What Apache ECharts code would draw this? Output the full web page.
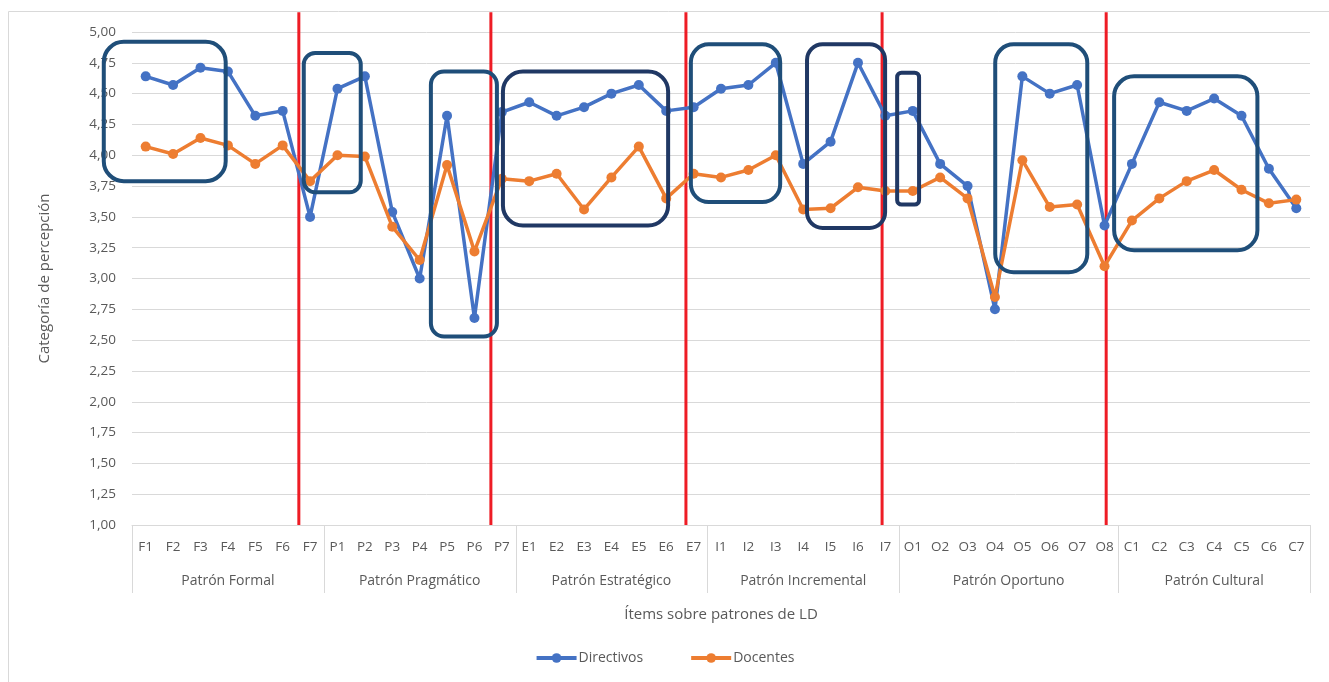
<!DOCTYPE html>
<html>
<head>
<meta charset="utf-8">
<script src="https://cdn.jsdelivr.net/npm/echarts@6/dist/echarts.min.js"></script>
<style>
  html, body { margin: 0; padding: 0; background: #fff; }
  #chart { width: 1329px; height: 682px; }
</style>
</head>
<body>
<div id="chart"></div>
<script>
// items per pattern
var groups = ['Patrón Formal', 'Patrón Pragmático', 'Patrón Estratégico', 'Patrón Incremental', 'Patrón Oportuno', 'Patrón Cultural'];
var groupSizes = [7, 7, 7, 7, 8, 7];
var items = ['F1','F2','F3','F4','F5','F6','F7',
             'P1','P2','P3','P4','P5','P6','P7',
             'E1','E2','E3','E4','E5','E6','E7',
             'I1','I2','I3','I4','I5','I6','I7',
             'O1','O2','O3','O4','O5','O6','O7','O8',
             'C1','C2','C3','C4','C5','C6','C7'];

var directivos = [4.64, 4.57, 4.71, 4.68, 4.32, 4.36, 3.50,
                  4.54, 4.64, 3.54, 3.00, 4.32, 2.68, 4.35,
                  4.43, 4.32, 4.39, 4.50, 4.57, 4.36, 4.39,
                  4.54, 4.57, 4.75, 3.93, 4.11, 4.75, 4.32,
                  4.36, 3.93, 3.75, 2.75, 4.64, 4.50, 4.57, 3.43,
                  3.93, 4.43, 4.36, 4.46, 4.32, 3.89, 3.57];

var docentes = [4.07, 4.01, 4.14, 4.08, 3.93, 4.08, 3.79,
                4.00, 3.99, 3.42, 3.15, 3.92, 3.22, 3.81,
                3.79, 3.85, 3.56, 3.82, 4.07, 3.65, 3.85,
                3.82, 3.88, 4.00, 3.56, 3.57, 3.74, 3.71,
                3.71, 3.82, 3.65, 2.85, 3.96, 3.58, 3.60, 3.10,
                3.47, 3.65, 3.79, 3.88, 3.72, 3.61, 3.64];

// annotations in data units (x = item index, y = value)
var redLines = [5.59, 12.6, 19.72, 26.88, 35.06];
var boxes = [
  // x0, x1, yTop, yBottom, dark
  [-1.53, 2.92, 4.92, 3.79, 0],
  [5.77, 7.85, 4.83, 3.70, 0],
  [10.41, 12.82, 4.68, 2.53, 0],
  [13.04, 19.07, 4.68, 3.43, 1],
  [19.90, 23.16, 4.90, 3.62, 0],
  [24.14, 26.99, 4.90, 3.41, 1],
  [27.43, 28.23, 4.67, 3.60, 1],
  [31.01, 34.37, 4.90, 3.05, 0],
  [35.35, 40.58, 4.64, 3.23, 0]
];

// group spans
var groupData = [];
var start = 0;
for (var g = 0; g < groups.length; g++) {
  groupData.push([start, start + groupSizes[g] - 1, g]);
  start += groupSizes[g];
}

var chart = echarts.init(document.getElementById('chart'));
var textColor = '#595959';
var fontFam = '"Open Sans", sans-serif';

var option = {
  animation: false,
  textStyle: { fontFamily: fontFam },
  graphic: [
    { type: 'line', shape: { x1: 8.5, y1: 11.5, x2: 1329, y2: 11.5 }, style: { stroke: '#D9D9D9', lineWidth: 1 } },
    { type: 'line', shape: { x1: 8.5, y1: 11.5, x2: 8.5, y2: 682 }, style: { stroke: '#D9D9D9', lineWidth: 1 } }
  ],
  grid: { left: 132, right: 19, top: 32, bottom: 157 },
  legend: {
    bottom: 12,
    left: 'center',
    itemWidth: 40,
    itemHeight: 12,
    itemGap: 46,
    lineStyle: { width: 4 },
    textStyle: { color: textColor, fontSize: 14, fontFamily: fontFam, padding: [0, 0, 0, -3] },
    data: ['Directivos', 'Docentes']
  },
  xAxis: [
    {
      type: 'category',
      data: items,
      boundaryGap: true,
      name: 'Ítems sobre patrones de LD',
      nameLocation: 'middle',
      nameGap: 82,
      nameTextStyle: { color: textColor, fontSize: 15, fontFamily: fontFam },
      axisLine: { lineStyle: { color: '#D9D9D9' } },
      axisTick: { show: false },
      axisLabel: { color: textColor, fontSize: 13.5, margin: 15, interval: 0, fontFamily: fontFam },
      splitLine: { show: false }
    },
    {
      type: 'value',
      min: -0.5,
      max: 42.5,
      show: false
    }
  ],
  yAxis: {
    type: 'value',
    min: 1,
    max: 5,
    interval: 0.25,
    name: 'Categoría de percepción',
    nameLocation: 'middle',
    nameGap: 80,
    nameTextStyle: { color: textColor, fontSize: 15, fontFamily: fontFam },
    axisLine: { show: false },
    axisTick: { show: false },
    axisLabel: {
      color: textColor, fontSize: 13.5, margin: 16, fontFamily: fontFam,
      formatter: function (v) { return v.toFixed(2).replace('.', ','); }
    },
    splitLine: { lineStyle: { color: '#D9D9D9' } }
  },
  series: [
    {
      name: 'redLines',
      type: 'custom',
      xAxisIndex: 1,
      z: 1,
      silent: true,
      data: redLines.map(function (x) { return [x]; }),
      renderItem: function (params, api) {
        var top = api.coord([api.value(0), 5.16]);
        var bot = api.coord([api.value(0), 1]);
        return {
          type: 'line',
          shape: { x1: top[0], y1: top[1], x2: bot[0], y2: bot[1] },
          style: { stroke: '#EE1C25', lineWidth: 3 }
        };
      }
    },
    {
      name: 'Directivos',
      type: 'line',
      data: directivos,
      z: 3,
      symbol: 'circle',
      symbolSize: 10,
      itemStyle: { color: '#4472C4' },
      lineStyle: { color: '#4472C4', width: 3.5 }
    },
    {
      name: 'Docentes',
      type: 'line',
      data: docentes,
      z: 4,
      symbol: 'circle',
      symbolSize: 10,
      itemStyle: { color: '#ED7D31' },
      lineStyle: { color: '#ED7D31', width: 3.5 }
    },
    {
      name: 'boxes',
      type: 'custom',
      xAxisIndex: 1,
      z: 5,
      silent: true,
      data: boxes,
      renderItem: function (params, api) {
        var p0 = api.coord([api.value(0), api.value(2)]);
        var p1 = api.coord([api.value(1), api.value(3)]);
        var w = p1[0] - p0[0];
        var h = p1[1] - p0[1];
        var r = Math.min(w, h) * 0.2;
        r = Math.min(r, 20);
        return {
          type: 'rect',
          shape: { x: p0[0], y: p0[1], width: w, height: h, r: r },
          style: { fill: 'none', stroke: api.value(4) ? '#203864' : '#1F4E79', lineWidth: 4 }
        };
      }
    },
    {
      name: 'groups',
      type: 'custom',
      xAxisIndex: 1,
      z: 2,
      silent: true,
      data: groupData,
      renderItem: function (params, api) {
        var a = api.coord([api.value(0) - 0.5, 1]);
        var b = api.coord([api.value(1) + 0.5, 1]);
        var children = [
          { type: 'line', shape: { x1: Math.round(a[0]) + 0.5, y1: a[1], x2: Math.round(a[0]) + 0.5, y2: a[1] + 68 }, style: { stroke: '#D9D9D9', lineWidth: 1 } },
          { type: 'text', style: { text: groups[api.value(2)], x: (a[0] + b[0]) / 2, y: a[1] + 56, textAlign: 'center', textVerticalAlign: 'middle', fill: textColor, fontSize: 14, fontFamily: fontFam } }
        ];
        if (params.dataIndex === groups.length - 1) {
          children.push({ type: 'line', shape: { x1: Math.round(b[0]) + 0.5, y1: b[1], x2: Math.round(b[0]) + 0.5, y2: b[1] + 68 }, style: { stroke: '#D9D9D9', lineWidth: 1 } });
        }
        return { type: 'group', children: children };
      }
    }
  ]
};
chart.setOption(option);
</script>
</body>
</html>
